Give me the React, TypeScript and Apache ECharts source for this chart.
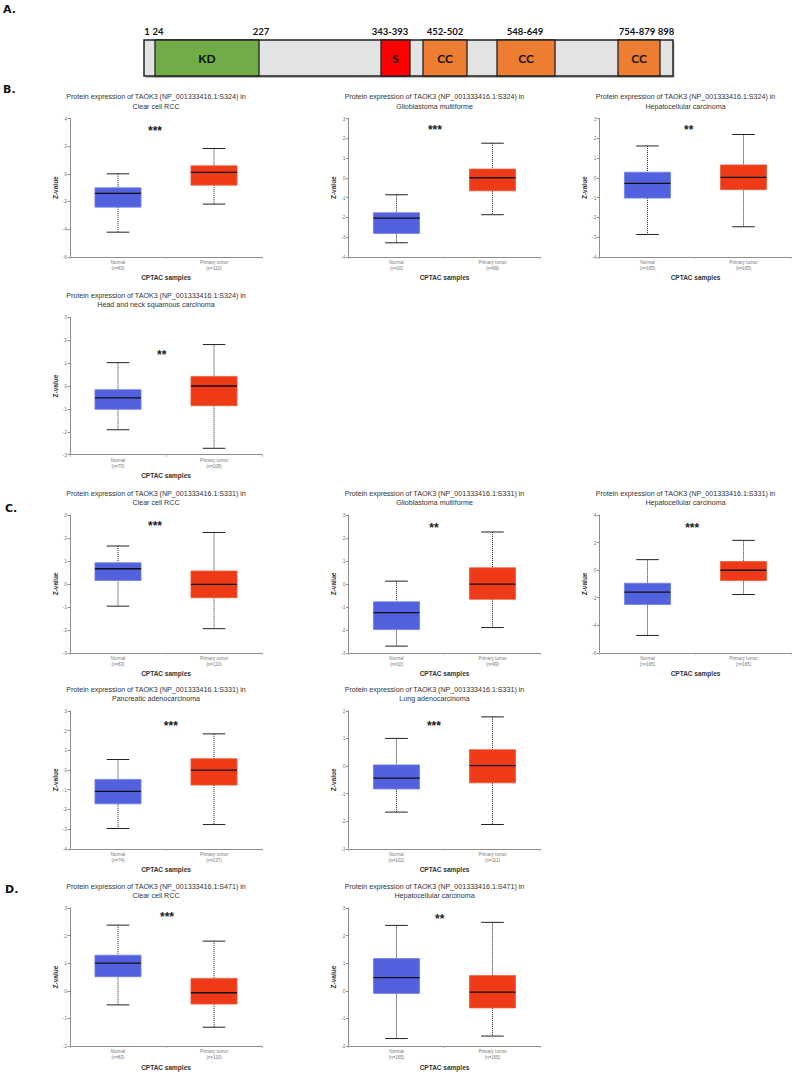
import React, { useEffect, useRef } from "react";
import * as echarts from "echarts";

// ---------------- DATA ----------------
const groups = ["Normal", "Primary tumor"];
const titleLine1 = "Protein expression of TAOK3 (NP_001333416.1:";
const panelSites = ["S324", "S324", "S324", "S324", "S331", "S331", "S331", "S331", "S331", "S471", "S471"];
const panelCancers = [
  "Clear cell RCC",
  "Glioblastoma multiforme",
  "Hepatocellular carcinoma",
  "Head and neck squamous carcinoma",
  "Clear cell RCC",
  "Glioblastoma multiforme",
  "Hepatocellular carcinoma",
  "Pancreatic adenocarcinoma",
  "Lung adenocarcinoma",
  "Clear cell RCC",
  "Hepatocellular carcinoma",
];
const normalN = [83, 10, 165, 70, 83, 10, 165, 74, 102, 83, 165];
const tumorN = [110, 99, 165, 108, 110, 99, 165, 137, 111, 110, 165];
// [min, q1, median, q3, max]
const normalBox = [
  [-4.22, -2.41, -1.42, -1.01, 0.0],
  [-3.29, -2.82, -2.04, -1.77, -0.86],
  [-2.87, -1.03, -0.28, 0.28, 1.61],
  [-1.91, -1.02, -0.52, -0.16, 1.02],
  [-0.97, 0.15, 0.66, 0.92, 1.65],
  [-2.71, -1.99, -1.25, -0.78, 0.12],
  [-4.74, -2.5, -1.6, -0.95, 0.76],
  [-2.97, -1.72, -1.09, -0.48, 0.53],
  [-1.67, -0.83, -0.44, 0.04, 1.0],
  [-0.51, 0.51, 1.0, 1.29, 2.38],
  [-1.73, -0.1, 0.48, 1.17, 2.37],
];
const tumorBox = [
  [-2.19, -0.82, 0.1, 0.58, 1.83],
  [-1.87, -0.66, 0.0, 0.44, 1.75],
  [-2.48, -0.6, 0.02, 0.65, 2.19],
  [-2.72, -0.86, 0.0, 0.42, 1.81],
  [-1.95, -0.6, -0.02, 0.56, 2.24],
  [-1.9, -0.67, -0.01, 0.7, 2.26],
  [-1.77, -0.76, -0.01, 0.62, 2.16],
  [-2.77, -0.77, -0.01, 0.57, 1.83],
  [-2.12, -0.61, 0.01, 0.59, 1.78],
  [-1.32, -0.48, -0.07, 0.45, 1.8],
  [-1.64, -0.62, -0.05, 0.55, 2.48],
];
const yMin = [-6, -4, -4, -3, -3, -3, -6, -4, -3, -2, -2];
const yMax = [4, 3, 3, 3, 3, 3, 4, 3, 2, 3, 3];
const yStep = [2, 1, 1, 1, 1, 1, 2, 1, 1, 1, 1];
const stars = ["***", "***", "**", "**", "***", "**", "***", "***", "***", "***", "**"];
const starY = [3.28, 2.55, 2.55, 1.5, 2.64, 2.58, 3.28, 2.39, 1.55, 2.77, 2.71];
const starX = [0.385, 0.4, 0.43, 0.455, 0.385, 0.39, 0.465, 0.55, 0.39, 0.51, 0.45];

const domainTicks = ["1", "24", "227", "343-393", "452-502", "548-649", "754-879", "898"];
const domainNames = ["KD", "S", "CC", "CC", "CC"];

// ---------------- LAYOUT ----------------
const panelPos = [
  [70, 118.5, 138.3], [348.5, 118.5, 138.3], [599.5, 118.5, 138.3],
  [70, 317.3, 137.4],
  [70, 515, 137.8], [348.5, 515, 137.8], [599.5, 515, 137.8],
  [70, 710.8, 138], [348.5, 710.8, 138],
  [70, 908, 138], [348.5, 908, 138],
];
const GRID_W = 192;
const tickX = [147, 158, 261, 390, 445, 525, 637, 666];
const domainSeg = [[155, 259], [381, 410], [423, 467], [497, 555], [618, 660]];
const domainColor = ["#70AD47", "#FF0000", "#ED7D31", "#ED7D31", "#ED7D31"];
const BAR = { x0: 144, x1: 673, y0: 40, y1: 76 };
const letters = [["A.", 3, 9], ["B.", 3, 89], ["C.", 5, 508], ["D.", 5, 889]];

const BLUE = "#5261DD";
const BLUE_B = "#7280E6";
const RED = "#EE3A17";
const RED_B = "#F05A3C";
const FONT = "'Liberation Sans', sans-serif";

export default function App() {
  const ref = useRef<HTMLDivElement>(null);
  useEffect(() => {
    if (!ref.current) return;
    const chart = echarts.init(ref.current, undefined, { renderer: "svg" });

    const grid: any[] = [];
    const xAxis: any[] = [];
    const yAxis: any[] = [];
    const series: any[] = [];
    const graphic: any[] = [];

    panelPos.forEach((p, i) => {
      const [left, top, h] = p;
      grid.push({ left, top, width: GRID_W, height: h });
      xAxis.push({
        gridIndex: i,
        type: "category",
        data: groups,
        axisLine: { onZero: false, lineStyle: { color: "#8c8c8c", width: 1.2 } },
        axisTick: { show: true, length: 2, lineStyle: { color: "#b0b0b0" } },
        axisLabel: {
          fontSize: 4.5,
          color: "#777",
          lineHeight: 5.8,
          margin: 3,
          fontFamily: FONT,
          formatter: (v: string, idx: number) =>
            `${v}\n(n=${idx === 0 ? normalN[i] : tumorN[i]})`,
        },
        name: "CPTAC samples",
        nameLocation: "middle",
        nameGap: 17.5,
        nameTextStyle: { fontSize: 6.5, fontWeight: "bold", color: "#333", fontFamily: FONT },
      });
      yAxis.push({
        gridIndex: i,
        type: "value",
        min: yMin[i],
        max: yMax[i],
        interval: yStep[i],
        splitLine: { show: false },
        axisLine: { show: true, onZero: false, lineStyle: { color: "#8c8c8c", width: 1 } },
        axisTick: { show: true, length: 2.5, lineStyle: { color: "#8c8c8c" } },
        axisLabel: { fontSize: 5, color: "#777", margin: 3, fontFamily: FONT },
        name: "Z-value",
        nameLocation: "middle",
        nameRotate: 90,
        nameGap: 11,
        nameTextStyle: { fontSize: 6.5, fontWeight: "bold", color: "#333", fontFamily: FONT },
      });
      series.push({
        type: "custom",
        xAxisIndex: i,
        yAxisIndex: i,
        clip: false,
        data: [[0, ...normalBox[i]], [1, ...tumorBox[i]]],
        encode: { x: 0, y: [1, 2, 3, 4, 5] },
        renderItem: (params: any, api: any) => {
          const c = api.value(0);
          const pts = [1, 2, 3, 4, 5].map((k) => api.coord([c, api.value(k)]));
          const band = api.size([1, 0])[0];
          const cx = pts[0][0];
          const bw = band * 0.48;
          const cw = band * 0.236;
          const dot = { stroke: "#222", lineWidth: 1, lineDash: [1, 1] };
          const cap = { stroke: "#222", lineWidth: 1 };
          const children: any[] = [
            { type: "line", shape: { x1: cx, y1: pts[4][1], x2: cx, y2: pts[3][1] }, style: dot },
            { type: "line", shape: { x1: cx, y1: pts[1][1], x2: cx, y2: pts[0][1] }, style: dot },
            { type: "line", shape: { x1: cx - cw / 2, y1: pts[4][1], x2: cx + cw / 2, y2: pts[4][1] }, style: cap },
            { type: "line", shape: { x1: cx - cw / 2, y1: pts[0][1], x2: cx + cw / 2, y2: pts[0][1] }, style: cap },
            {
              type: "rect",
              shape: { x: cx - bw / 2, y: pts[3][1], width: bw, height: pts[1][1] - pts[3][1] },
              style: { fill: c === 0 ? BLUE : RED, stroke: c === 0 ? BLUE_B : RED_B, lineWidth: 0.8 },
            },
            {
              type: "line",
              shape: { x1: cx - bw / 2, y1: pts[2][1], x2: cx + bw / 2, y2: pts[2][1] },
              style: { stroke: "#111", lineWidth: 1.3 },
            },
          ];
          if (c === 0) {
            const sp = api.coord([0, starY[i]]);
            children.push({
              type: "text",
              x: cx + starX[i] * band,
              y: sp[1] + 3,
              style: {
                text: stars[i],
                fontSize: 12,
                fontWeight: "bold",
                fill: "#222",
                align: "center",
                verticalAlign: "middle",
                fontFamily: FONT,
              },
            });
          }
          return { type: "group", children };
        },
      });
      graphic.push({
        type: "text",
        x: left + GRID_W / 2 - 10,
        y: top - 17.2,
        scaleX: 0.89,
        style: {
          text: `${titleLine1}${panelSites[i]}) in\n${panelCancers[i]}`,
          fontSize: 8,
          lineHeight: 9.3,
          fill: "#333",
          align: "center",
          verticalAlign: "middle",
          fontFamily: FONT,
        },
      });
    });

    // Domain diagram
    graphic.push({
      type: "rect",
      shape: { x: BAR.x0 + 1.5, y: BAR.y0 + 2, width: BAR.x1 - BAR.x0, height: BAR.y1 - BAR.y0 },
      style: { fill: "#b8b8b8" },
    });
    graphic.push({
      type: "rect",
      shape: { x: BAR.x0, y: BAR.y0, width: BAR.x1 - BAR.x0, height: BAR.y1 - BAR.y0 },
      style: { fill: "#E3E3E3", stroke: "#222", lineWidth: 1.5 },
    });
    domainSeg.forEach((s, k) => {
      graphic.push({
        type: "rect",
        shape: { x: s[0], y: BAR.y0, width: s[1] - s[0], height: BAR.y1 - BAR.y0 },
        style: { fill: domainColor[k], stroke: "#222", lineWidth: 1.3 },
      });
      graphic.push({
        type: "text",
        x: (s[0] + s[1]) / 2,
        y: (BAR.y0 + BAR.y1) / 2,
        style: {
          text: domainNames[k],
          fontSize: 12,
          fontWeight: "bold",
          fill: "#111",
          align: "center",
          verticalAlign: "middle",
          fontFamily: "Lato, sans-serif",
        },
      });
    });
    domainTicks.forEach((t, k) => {
      graphic.push({
        type: "text",
        x: tickX[k],
        y: 31,
        style: {
          text: t,
          fontSize: 9.5,
          fontWeight: "bold",
          fill: "#111",
          align: "center",
          verticalAlign: "middle",
          fontFamily: "Lato, sans-serif",
        },
      });
    });
    letters.forEach((l) => {
      graphic.push({
        type: "text",
        x: l[1] as number,
        y: l[2] as number,
        style: {
          text: l[0] as string,
          fontSize: 11,
          fontWeight: "bold",
          fill: "#111",
          align: "left",
          verticalAlign: "middle",
          fontFamily: "'DejaVu Sans', sans-serif",
        },
      });
    });

    chart.setOption({
      animation: false,
      backgroundColor: "#ffffff",
      grid,
      xAxis,
      yAxis,
      series,
      graphic,
    });
    return () => chart.dispose();
  }, []);
  return (
    <div
      ref={ref}
      style={{ position: "absolute", left: 0, top: 0, width: 794, height: 1072 }}
    />
  );
}
